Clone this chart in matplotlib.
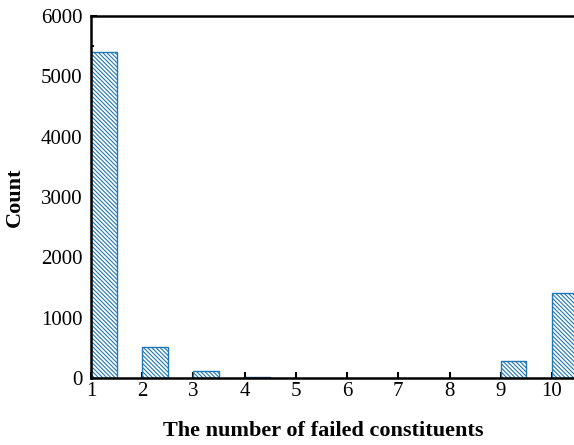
import matplotlib
matplotlib.use("Agg")
import matplotlib.pyplot as plt
from matplotlib.ticker import MultipleLocator

failed = [1, 2, 3, 4, 9, 10]
counts = [5400, 510, 110, 15, 280, 1410]
x_ticks = [1, 2, 3, 4, 5, 6, 7, 8, 9, 10]

plt.rcParams["font.family"] = ["Liberation Serif", "DejaVu Serif"]
plt.rcParams["hatch.color"] = "#1f77b4"
plt.rcParams["hatch.linewidth"] = 0.8

fig = plt.figure(figsize=(5.74, 4.45), dpi=100)
ax = fig.add_axes([0.1585, 0.1506, 0.8415, 0.8134])

ax.bar(failed, counts, width=0.5, align="edge", facecolor="white",
       edgecolor="#1f77b4", hatch="\\" * 8, linewidth=1.0, zorder=2)

ax.set_xlim(1, 10.43)
ax.set_ylim(0, 6000)
ax.set_xticks(x_ticks)
ax.yaxis.set_major_locator(MultipleLocator(1000))
ax.yaxis.set_minor_locator(MultipleLocator(500))
ax.tick_params(axis="both", which="both", direction="in", labelsize=15,
               width=1.5, top=False, right=False)
ax.tick_params(axis="x", pad=3)
ax.tick_params(axis="y", pad=6)
ax.tick_params(which="major", length=4)
ax.tick_params(which="minor", length=2)
for side in ("left", "bottom", "top"):
    ax.spines[side].set_linewidth(1.8)
ax.spines["right"].set_visible(False)

ax.set_xlabel("The number of failed constituents", fontsize=16,
              fontweight="bold")
ax.xaxis.set_label_coords(0.48, -0.12)
ax.set_ylabel("Count", fontsize=16, fontweight="bold")
ax.yaxis.set_label_coords(-0.137, 0.5)

fig.savefig("out.png", dpi=100)
